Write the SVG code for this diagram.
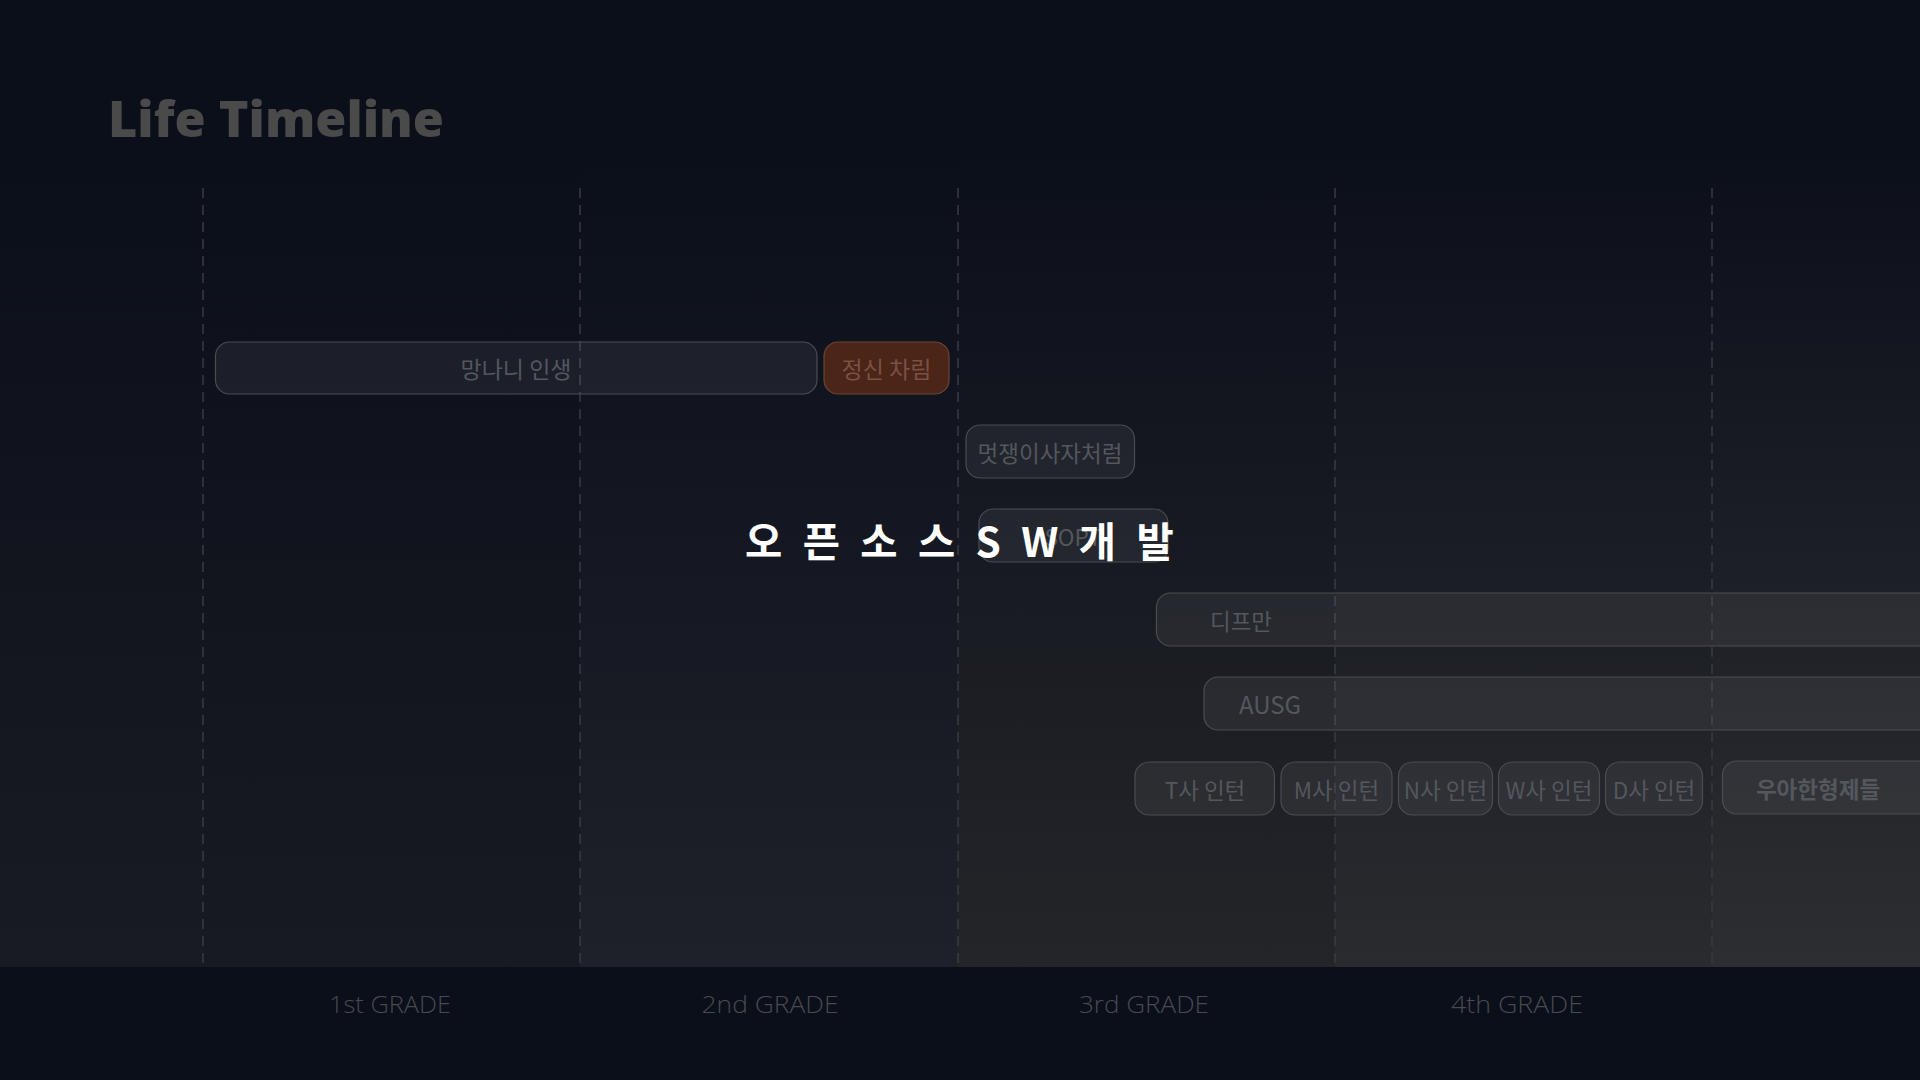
<svg xmlns="http://www.w3.org/2000/svg" width="1920" height="1080" viewBox="0 0 1920 1080">
<defs>
<linearGradient id="g0" x1="0" y1="0" x2="0" y2="1"><stop offset="0.15" stop-color="#0b0f1a"/><stop offset="1" stop-color="#181b22"/></linearGradient>
<linearGradient id="g1" x1="0" y1="0" x2="0" y2="1"><stop offset="0.15" stop-color="#0b0f1a"/><stop offset="1" stop-color="#171a21"/></linearGradient>
<linearGradient id="g2" x1="0" y1="0" x2="0" y2="1"><stop offset="0.15" stop-color="#0b0f1a"/><stop offset="1" stop-color="#1e2129"/></linearGradient>
<linearGradient id="g3" x1="0" y1="0" x2="0" y2="1"><stop offset="0.15" stop-color="#0b0f1a"/><stop offset="1" stop-color="#242529"/></linearGradient>
<linearGradient id="g4" x1="0" y1="0" x2="0" y2="1"><stop offset="0.15" stop-color="#0b0f1a"/><stop offset="1" stop-color="#2a2b2f"/></linearGradient>
<linearGradient id="g5" x1="0" y1="0" x2="0" y2="1"><stop offset="0.15" stop-color="#0b0f1a"/><stop offset="1" stop-color="#2d2e31"/></linearGradient>
<style>
.grid{stroke:#393b43;stroke-width:1.5;stroke-dasharray:10 7;fill:none}
.bar{fill:#ffffff;fill-opacity:0.06;stroke:#4a4c52;stroke-width:1.2}
.lbl{font-family:"Noto Sans CJK KR","Noto Sans",sans-serif;font-size:22.5px;fill:#54575d;text-anchor:middle;dominant-baseline:central}
.grade{font-family:"Open Sans","Noto Sans",sans-serif;font-weight:300;font-size:23px;fill:#474a50;text-anchor:middle}
</style>
</defs>
<rect x="0" y="0" width="1920" height="1080" fill="#0b0f1a"/>
<g id="columns">
<rect x="0" y="0" width="203" height="967" fill="url(#g0)"/>
<rect x="203" y="0" width="377" height="967" fill="url(#g1)"/>
<rect x="580" y="0" width="378" height="967" fill="url(#g2)"/>
<rect x="958" y="0" width="377" height="967" fill="url(#g3)"/>
<rect x="1335" y="0" width="377" height="967" fill="url(#g4)"/>
<rect x="1712" y="0" width="208" height="967" fill="url(#g5)"/>
</g>
<g id="gridlines">
<line class="grid" x1="203" y1="188" x2="203" y2="967"/>
<line class="grid" x1="580" y1="188" x2="580" y2="967"/>
<line class="grid" x1="958" y1="188" x2="958" y2="967"/>
<line class="grid" x1="1335" y1="188" x2="1335" y2="967"/>
<line class="grid" x1="1712" y1="188" x2="1712" y2="967"/>
</g>
<text id="title" x="108" y="137" font-family="'Open Sans','Noto Sans',sans-serif" font-weight="800" font-size="49" fill="#4a4a4a" textLength="336" lengthAdjust="spacingAndGlyphs">Life Timeline</text>
<g id="n-mangnani"><rect class="bar" x="215.5" y="342" width="601.5" height="52" rx="14"/><text class="lbl" x="516" y="368" style="font-size:23px">망나니 인생</text></g>
<g id="n-jeongsin"><rect x="824" y="342" width="125" height="52" rx="14" fill="#4b2518" stroke="#6a4538" stroke-width="1.2"/><text class="lbl" x="886.5" y="368" style="fill:#7a5143;font-size:23px">정신 차림</text></g>
<g id="n-likelion"><rect class="bar" x="966" y="425" width="168.5" height="53" rx="14"/><text class="lbl" x="1050" y="451.5">멋쟁이사자처럼</text></g>
<g id="n-sopt"><rect class="bar" x="979" y="509" width="189" height="53" rx="14"/><text class="lbl" x="1073" y="535.5">SOPT</text></g>
<g id="n-opensource"><text x="745" y="557" font-family="'Noto Sans CJK KR','Noto Sans',sans-serif" font-weight="700" font-size="40.5" fill="#ffffff" letter-spacing="5.6">오 픈 소 스 S W 개 발</text></g>
<g id="n-depromeet"><rect class="bar" x="1156.5" y="593" width="790" height="53" rx="14"/><text class="lbl" x="1241" y="619.5">디프만</text></g>
<g id="n-ausg"><rect class="bar" x="1204" y="677" width="740" height="53" rx="14"/><text class="lbl" x="1270" y="703.5" style="font-size:24px">AUSG</text></g>
<g id="n-t"><rect class="bar" x="1135" y="762" width="139.5" height="53" rx="14"/><text class="lbl" x="1205" y="788.5">T사 인턴</text></g>
<g id="n-m"><rect class="bar" x="1281" y="762" width="111" height="53" rx="14"/><text class="lbl" x="1336.5" y="788.5">M사 인턴</text></g>
<g id="n-n"><rect class="bar" x="1398.5" y="762" width="94" height="53" rx="14"/><text class="lbl" x="1445.5" y="788.5">N사 인턴</text></g>
<g id="n-w"><rect class="bar" x="1498.5" y="762" width="101" height="53" rx="14"/><text class="lbl" x="1549" y="788.5">W사 인턴</text></g>
<g id="n-d"><rect class="bar" x="1605.5" y="762" width="97" height="53" rx="14"/><text class="lbl" x="1654" y="788.5">D사 인턴</text></g>
<g id="n-woowa"><rect class="bar" x="1722.5" y="761" width="220" height="53" rx="14"/><text class="lbl" x="1818" y="787.5" style="font-weight:700">우아한형제들</text></g>
<g id="grades">
<text class="grade" x="390" y="1013" textLength="122" lengthAdjust="spacingAndGlyphs">1st GRADE</text>
<text class="grade" x="770" y="1013" textLength="137" lengthAdjust="spacingAndGlyphs">2nd GRADE</text>
<text class="grade" x="1144" y="1013" textLength="130" lengthAdjust="spacingAndGlyphs">3rd GRADE</text>
<text class="grade" x="1517" y="1013" textLength="132" lengthAdjust="spacingAndGlyphs">4th GRADE</text>
</g>
</svg>
